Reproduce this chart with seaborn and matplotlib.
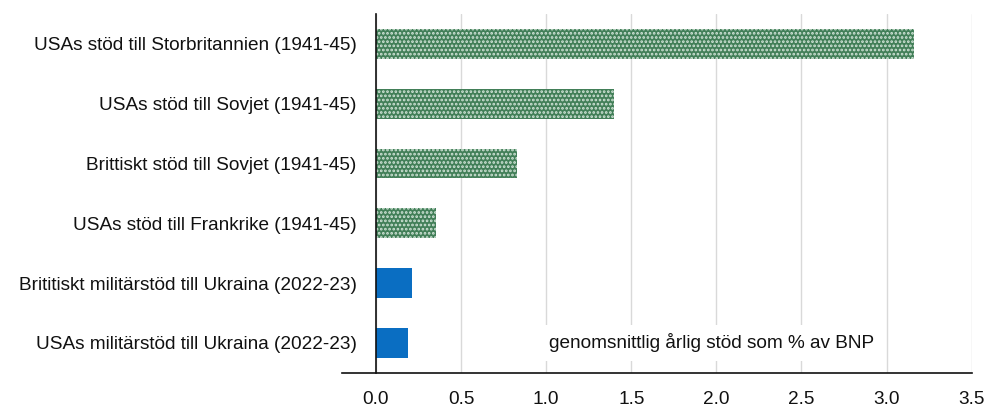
import matplotlib
matplotlib.use("Agg")
import matplotlib.pyplot as plt
import matplotlib.colors as mcolors
import seaborn as sns
import pandas as pd

categories = [
    "USAs stöd till Storbritannien (1941-45)",
    "USAs stöd till Sovjet (1941-45)",
    "Brittiskt stöd till Sovjet (1941-45)",
    "USAs stöd till Frankrike (1941-45)",
    "Brititiskt militärstöd till Ukraina (2022-23)",
    "USAs militärstöd till Ukraina (2022-23)",
]
values = [3.16, 1.40, 0.83, 0.355, 0.21, 0.19]
period = ["1941-45", "1941-45", "1941-45", "1941-45", "2022-23", "2022-23"]
xticks = [0.0, 0.5, 1.0, 1.5, 2.0, 2.5, 3.0, 3.5]
note = "genomsnittlig årlig stöd som % av BNP"

df = pd.DataFrame({"kategori": categories, "andel": values, "period": period})

sns.set_style("white")
plt.rcParams["font.family"] = ["Liberation Sans", "DejaVu Sans"]
plt.rcParams["hatch.linewidth"] = 1.3

fig = plt.figure(figsize=(9.85, 4.07), dpi=100)
ax = fig.add_axes([0.347, 0.0843, 0.6395, 0.8813])

green = "#427f58"
palette = {"1941-45": green, "2022-23": "#0a6ec2"}
sns.barplot(data=df, y="kategori", x="andel", hue="period", palette=palette,
            order=categories, dodge=False, width=0.5, legend=False,
            linewidth=0, saturation=1, ax=ax)

# dotted fill for the wartime aid bars
green_rgb = mcolors.to_rgb(green)
for patch in ax.patches:
    fc = patch.get_facecolor()[:3]
    if max(abs(a - b) for a, b in zip(fc, green_rgb)) < 0.02:
        patch.set_hatch("....")
        patch.set_edgecolor("#d2e4d8")
        patch.set_linewidth(0)

ax.set_xlim(-0.2, 3.5)
ax.set_ylim(5.5, -0.5)
ax.set_xticks(xticks)
ax.set_xticklabels([f"{t:.1f}" for t in xticks])
ax.set_xlabel("")
ax.set_ylabel("")

ax.grid(axis="x", color="#d9d9d9", linewidth=1)
ax.set_axisbelow(True)

for side in ["top", "right"]:
    ax.spines[side].set_visible(False)
ax.spines["left"].set_position(("data", 0))
ax.spines["left"].set_color("#111111")
ax.spines["left"].set_linewidth(1.2)
ax.spines["bottom"].set_color("#111111")
ax.spines["bottom"].set_linewidth(1.2)
ax.spines["left"].set_zorder(3)

ax.tick_params(axis="y", length=0, pad=14, labelsize=13.7, labelcolor="#111111")
ax.tick_params(axis="x", length=0, pad=13, labelsize=13.7, labelcolor="#111111")

ax.text(1.97, 5, note, ha="center", va="center", fontsize=13.7, color="#111111",
        bbox=dict(facecolor="white", edgecolor="none", pad=6), zorder=4)

fig.savefig("out.png", dpi=100)
